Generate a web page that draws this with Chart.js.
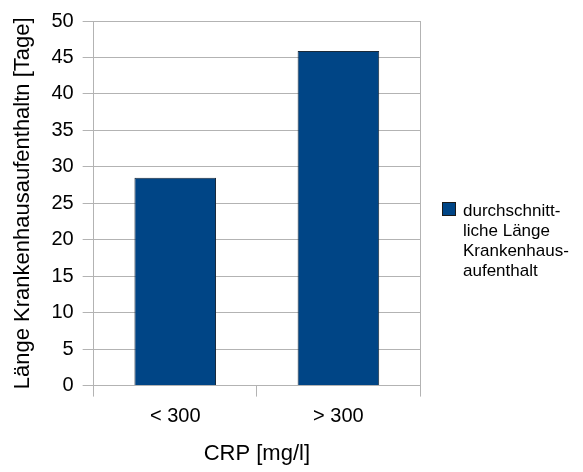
<!DOCTYPE html>
<html>
<head>
<meta charset="utf-8">
<script src="https://cdn.jsdelivr.net/npm/chart.js@4/dist/chart.umd.min.js"></script>
<style>
html,body{margin:0;padding:0;background:#fff;}
#wrap{width:583px;height:472px;position:relative;}
</style>
</head>
<body>
<div id="wrap"><canvas id="c" width="583" height="472"></canvas></div>
<script>
const categories = ["< 300", "> 300"];
const seriesLabel = "durchschnittliche Länge Krankenhausaufenthalt";
const legendLines = ["durchschnitt-", "liche Länge", "Krankenhaus-", "aufenthalt"];
const values = [28.5, 45.9];
const yTicks = [0, 5, 10, 15, 20, 25, 30, 35, 40, 45, 50];
const xTitle = "CRP [mg/l]";
const yTitle = "Länge Krankenhausaufenthaltn [Tage]";

const FONT = "'Liberation Sans', Arial, sans-serif";
const BAR = "#004586";
const GRID = "#b3b3b3";

const extras = {
  id: "extras",
  afterDraw(chart) {
    const ctx = chart.ctx;
    const a = chart.chartArea;
    ctx.save();
    // right frame line
    ctx.strokeStyle = GRID;
    ctx.lineWidth = 1;
    ctx.beginPath();
    ctx.moveTo(Math.round(a.right) + 0.5, a.top);
    ctx.lineTo(Math.round(a.right) + 0.5, a.bottom);
    ctx.stroke();
    // legend
    const lx = a.right + 22, ly = a.top + 181;
    ctx.fillStyle = BAR;
    ctx.fillRect(lx, ly, 14, 14);
    ctx.strokeStyle = "#1a1a1a";
    ctx.strokeRect(lx + 0.5, ly + 0.5, 13, 13);
    ctx.fillStyle = "#000";
    ctx.font = "17px " + FONT;
    ctx.textBaseline = "alphabetic";
    ctx.textAlign = "left";
    legendLines.forEach((t, i) => ctx.fillText(t, lx + 21, ly + 14 + i * 20));
    ctx.restore();
  }
};

new Chart(document.getElementById("c"), {
  type: "bar",
  data: {
    labels: categories,
    datasets: [{
      label: seriesLabel,
      data: values,
      backgroundColor: BAR,
      borderColor: "#1a2a3a",
      borderWidth: 1,
      barPercentage: 0.5,
      categoryPercentage: 1.0
    }]
  },
  options: {
    responsive: false,
    animation: false,
    devicePixelRatio: 1,
    layout: { padding: { left: 6, right: 163, top: 8, bottom: 1 } },
    plugins: { legend: { display: false }, tooltip: { enabled: false } },
    scales: {
      x: {
        offset: true,
        grid: { offset: true, drawOnChartArea: false, drawTicks: true, tickLength: 11, color: GRID },
        border: { display: true, color: GRID },
        ticks: { color: "#000", font: { family: FONT, size: 20 }, padding: 8 },
        title: { display: true, text: xTitle, color: "#000", font: { family: FONT, size: 22 }, padding: { top: 4, bottom: 4 } }
      },
      y: {
        min: 0, max: 50,
        afterBuildTicks(scale) { scale.ticks = yTicks.map(v => ({ value: v })); },
        grid: { color: GRID, tickLength: 11, drawTicks: true },
        border: { display: true, color: GRID },
        ticks: { color: "#000", font: { family: FONT, size: 20 }, padding: 9 },
        title: { display: true, text: yTitle, color: "#000", font: { family: FONT, size: 22 }, padding: { top: 4, bottom: 6 } }
      }
    }
  },
  plugins: [extras]
});
</script>
</body>
</html>
